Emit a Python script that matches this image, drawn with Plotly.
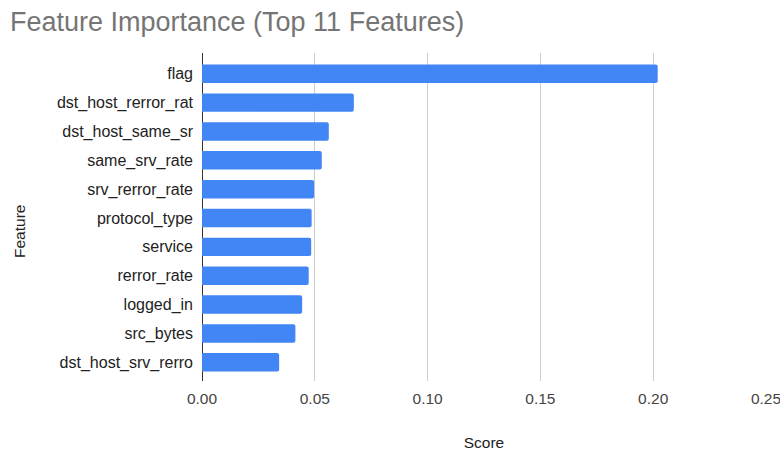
import plotly.graph_objects as go

features = ["flag", "dst_host_rerror_rat", "dst_host_same_sr", "same_srv_rate",
            "srv_rerror_rate", "protocol_type", "service", "rerror_rate",
            "logged_in", "src_bytes", "dst_host_srv_rerro"]
scores = [0.202, 0.0673, 0.0562, 0.0531, 0.0497, 0.0486, 0.0484, 0.0473,
          0.0444, 0.0414, 0.0342]
x_ticks = [0.0, 0.05, 0.10, 0.15, 0.20, 0.25]
x_ticklabels = ["0.00", "0.05", "0.10", "0.15", "0.20", "0.25"]

FONT = "Liberation Sans, Arial, sans-serif"
W, H = 780, 453
L, R, T, B = 202, 14, 53, 72

fig = go.Figure(go.Bar(
    x=scores, y=features, orientation="h",
    marker=dict(color="#4285F4", line=dict(width=0)),
))

fig.update_layout(
    width=W, height=H,
    margin=dict(l=L, r=R, t=T, b=B, autoexpand=False),
    paper_bgcolor="white", plot_bgcolor="white",
    font=dict(family=FONT, size=16, color="#222222"),
    title=dict(text="Feature Importance (Top 11 Features)",
               font=dict(family=FONT, size=27, color="#757575"),
               x=0.0128, xanchor="left", y=0.952, yanchor="middle"),
    bargap=0.36,
    barcornerradius=2,
    showlegend=False,
)
fig.update_xaxes(
    range=[0, 0.25], tickvals=x_ticks, ticktext=x_ticklabels,
    showgrid=True, gridcolor="#cccccc", gridwidth=1,
    zeroline=True, zerolinecolor="#333333", zerolinewidth=1,
    showline=False, ticks="", ticklabelstandoff=6,
    ticklabeloverflow="allow", automargin=False,
    title=dict(text="Score", standoff=31, font=dict(family=FONT, size=15.5, color="#222222")),
    tickfont=dict(family=FONT, size=15.5, color="#444444"),
)
fig.update_yaxes(
    categoryorder="array", categoryarray=features,
    range=[10.65, -0.72], automargin=False,
    showgrid=False, zeroline=False, showline=False, ticks="",
    ticklabelstandoff=8,
    tickfont=dict(family=FONT, size=16, color="#222222"),
)

pw = W - L - R
ph = H - T - B
fig.add_annotation(
    text="Feature", textangle=-90, showarrow=False,
    xref="paper", yref="paper",
    x=(20 - L) / pw, y=(H - B - 232) / ph,
    xanchor="center", yanchor="middle",
    font=dict(family=FONT, size=15.5, color="#222222"),
)

fig.write_html("out.html")
